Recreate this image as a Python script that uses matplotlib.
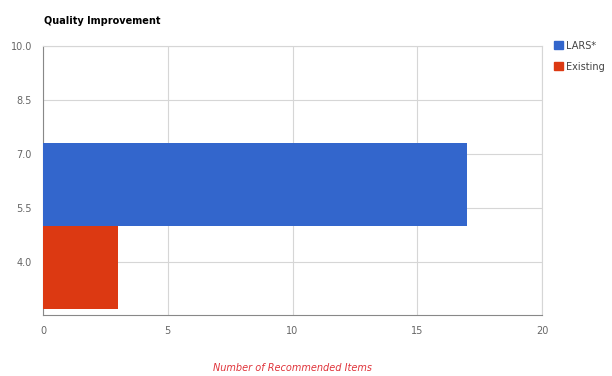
import matplotlib.pyplot as plt
from matplotlib.patches import Patch

# one category on a continuous y axis, two series
series = ["LARS*", "Existing"]
values = [17, 3]
colors = ["#3366cc", "#dc3912"]
y_center = 5.0
bar_h = 2.3
yticks = [4.0, 5.5, 7.0, 8.5, 10.0]
xticks = [0, 5, 10, 15, 20]

fig = plt.figure(figsize=(6.12, 3.76), dpi=100)
ax = fig.add_axes([0.0703, 0.1622, 0.8153, 0.7155])

# LARS* sits above the category centre, Existing below
ax.barh(y_center, values[0], height=bar_h, align="edge", color=colors[0], zorder=3)
ax.barh(y_center, values[1], height=-bar_h, align="edge", color=colors[1], zorder=3)

ax.set_xlim(0, 20)
ax.set_ylim(2.53, 10.0)
ax.set_xticks(xticks)
ax.set_yticks(yticks)
ax.set_xticklabels([str(v) for v in xticks])
ax.set_yticklabels(["%.1f" % v for v in yticks])
ax.tick_params(length=0, labelsize=7, colors="#666666", pad=8)
ax.grid(True, color="#d6d6d6", linewidth=0.8, zorder=0)
for s in ["top", "right"]:
    ax.spines[s].set_color("#d6d6d6")
for s in ["left", "bottom"]:
    ax.spines[s].set_color("#888888")

fig.text(0.072, 0.945, "Quality Improvement", fontsize=7, fontweight="bold",
         va="center", ha="left")
fig.text(0.478, 0.022, "Number of Recommended Items", fontsize=7,
         style="italic", color="#e0333a", ha="center", va="center")

handles = [Patch(color=c) for c in colors]
fig.legend(handles, series, loc="upper left", bbox_to_anchor=(0.905, 0.892),
           frameon=False, fontsize=7, handlelength=0.9, handleheight=0.9,
           handletextpad=0.4, labelspacing=1.15, borderaxespad=0, borderpad=0,
           labelcolor="#444444")

fig.savefig("out.png", dpi=100)
